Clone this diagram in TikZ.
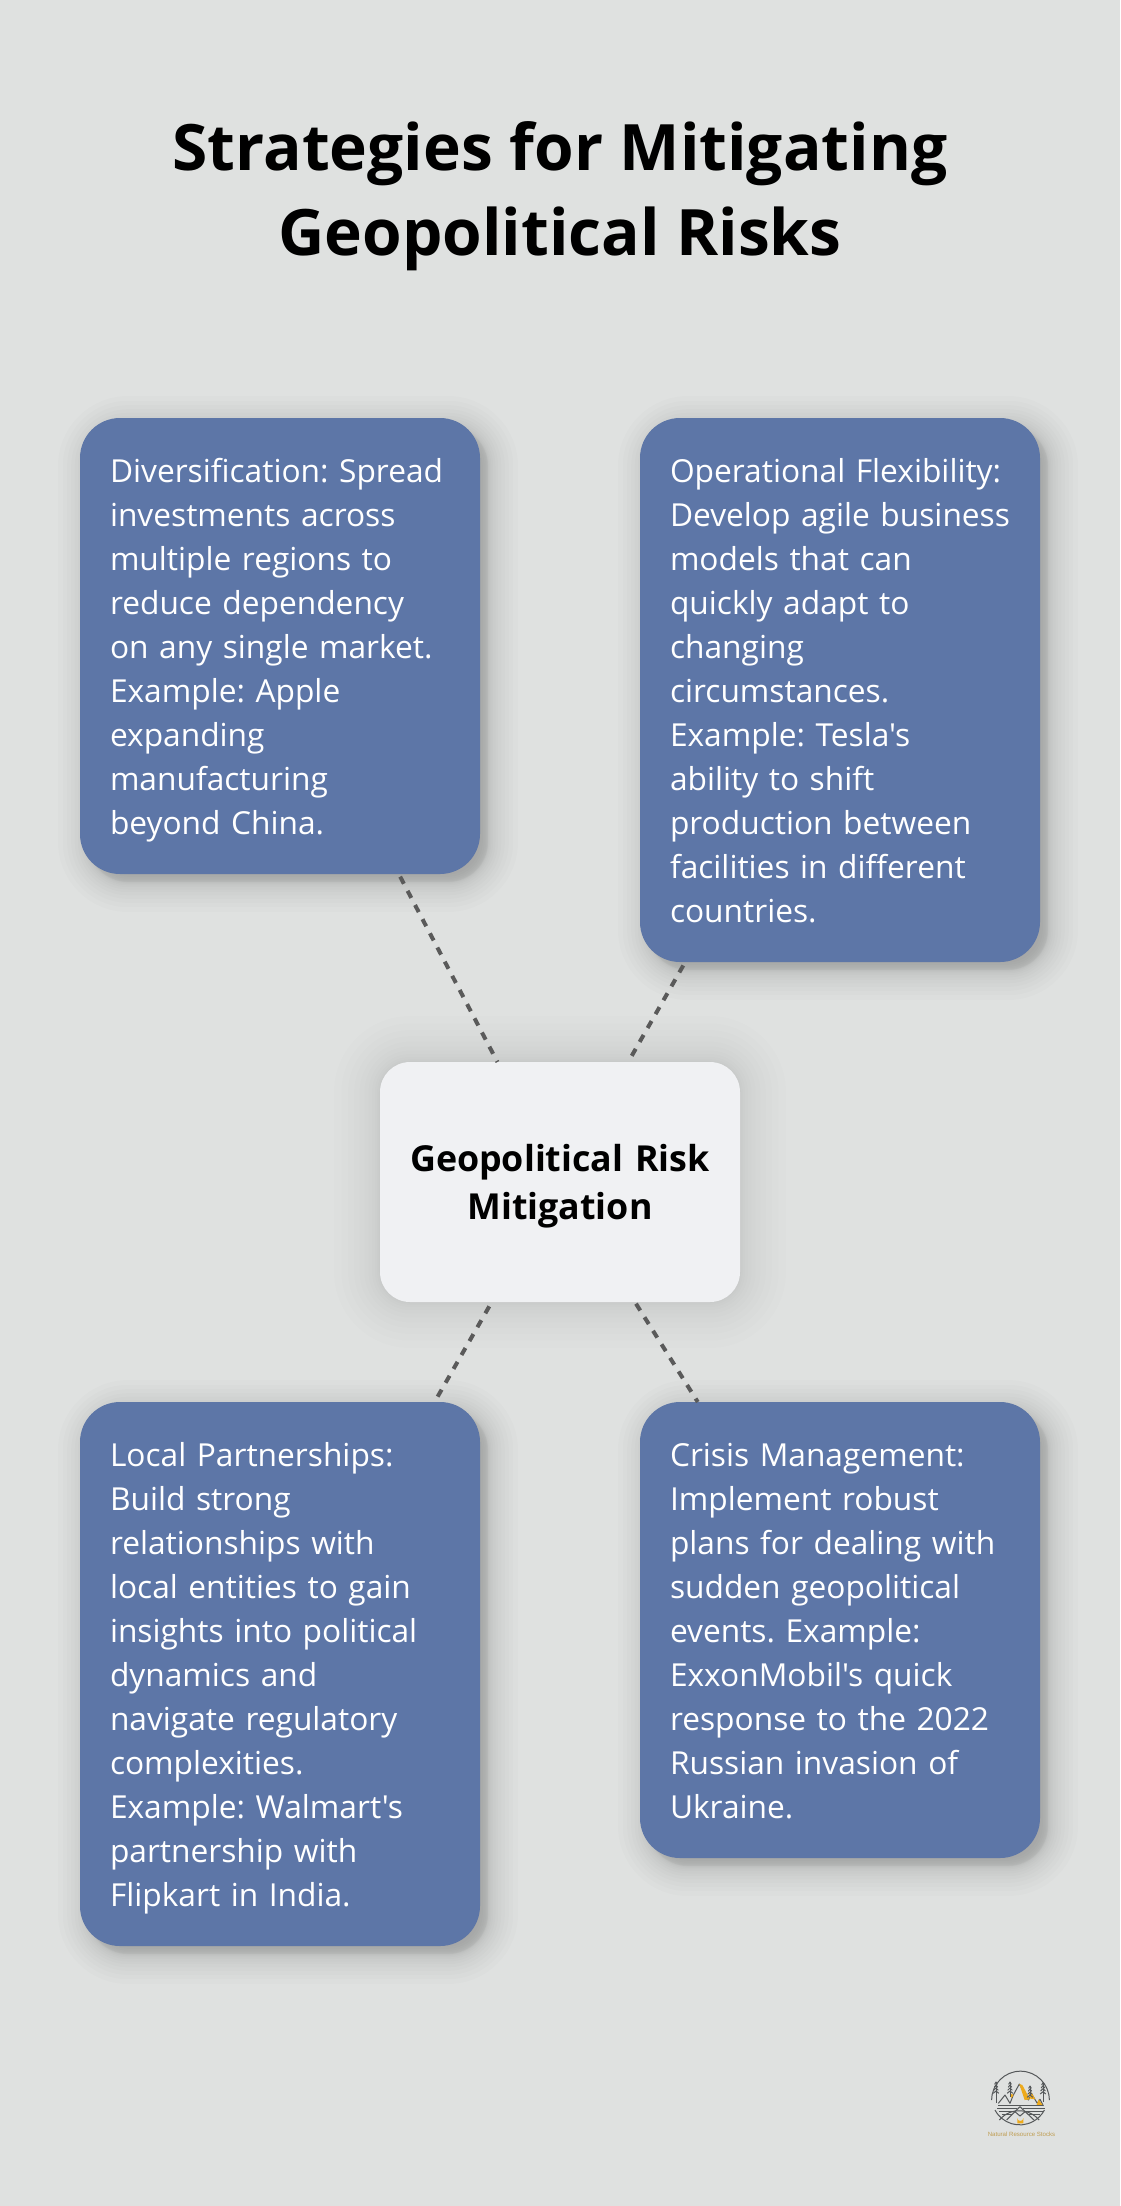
\documentclass[tikz,border=0pt]{standalone}
\usepackage{fontspec}
\newfontfamily\opensans{Open Sans}
\newfontfamily\logofont{Liberation Sans}
\definecolor{bgc}{HTML}{DFE1E0}
\definecolor{bluec}{HTML}{5D76A7}
\definecolor{centerc}{HTML}{F0F1F3}
\definecolor{dashc}{HTML}{5A5A5A}
\definecolor{goldc}{HTML}{EDAA1C}
\definecolor{inkc}{HTML}{55585A}
\newcommand{\softshadow}[7]{%
  \foreach \kv in {0,...,24}{%
    \pgfmathsetmacro{\tv}{\kv/12-1}%
    \pgfmathsetmacro{\sv}{#6*\tv*abs(\tv)}%
    \pgfmathsetmacro{\rv}{max(#5+\sv,1)}%
    \fill[black,fill opacity=#7,rounded corners=\rv pt]
      ({#1-(\sv)},{#2-(\sv)}) rectangle ({#3+\sv},{#4+\sv});
  }}
\newcommand{\firstl}{\vrule height 34pt depth 0pt width 0pt}
\newcommand{\lastl}{\vrule height 0pt depth 10pt width 0pt}
\tikzset{
  card/.style={fill=bluec,rounded corners=40pt,text=white,minimum width=400pt,
    inner xsep=30pt,inner ysep=30pt,outer sep=0pt,text width=340pt,align=left,
    font=\opensans\frenchspacing\fontsize{31.7}{44}\selectfont},
  hub/.style={fill=centerc,rounded corners=30pt,text=black,minimum width=360pt,minimum height=240pt,
    inner sep=0pt,outer sep=0pt,text width=340pt,align=center,
    font=\opensans\bfseries\frenchspacing\fontsize{35.8}{48}\selectfont},
  link/.style={draw=dashc,line width=4pt,dash pattern=on 8pt off 8pt},
  titletext/.style={text=black,align=center,inner sep=0pt,font=\opensans\bfseries\fontsize{64}{85}\selectfont},
  logoline/.style={draw=inkc,line width=1pt,line join=round},
  logogold/.style={fill=goldc,draw=none}
}
\begin{document}
\begin{tikzpicture}[x=1pt,y=-1pt]
\fill[bgc] (0,0) rectangle (1120,2206);
\useasboundingbox (0,0) rectangle (1120,2206);
% shadows
\softshadow{88}{426}{488}{882}{40}{30}{0.013}
\softshadow{648}{426}{1048}{970}{40}{30}{0.013}
\softshadow{88}{1410}{488}{1954}{40}{30}{0.013}
\softshadow{648}{1410}{1048}{1866}{40}{30}{0.013}
\softshadow{380}{1062}{740}{1302}{30}{46}{0.008}
% title
\node[titletext] (title) at (560,195.5) {\vrule height 60pt depth 0pt width 0pt Strategies for Mitigating\\Geopolitical Risks\vrule height 0pt depth 25pt width 0pt};
% nodes
\node[card] (div) at (280,646) {\firstl Diversification: Spread\\investments across\\multiple regions to\\reduce dependency\\on any single market.\\Example: Apple\\expanding\\manufacturing\\beyond China.\lastl};
\node[card] (flex) at (840,690) {\firstl Operational Flexibility:\\Develop agile \mbox{business}\\models that can\\quickly adapt to\\changing\\circumstances.\\Example: Tesla's\\ability to shift\\production between\\facilities in different\\countries.\lastl};
\node[card] (local) at (280,1674) {\firstl Local Partnerships:\\Build strong\\relationships with\\local entities to gain\\insights into political\\dynamics and\\navigate regulatory\\complexities.\\Example: Walmart's\\partnership with\\Flipkart in India.\lastl};
\node[card] (crisis) at (840,1630) {\firstl Crisis Management:\\Implement robust\\plans for dealing with\\sudden geopolitical\\events. Example:\\ExxonMobil's quick\\response to the 2022\\Russian invasion of\\Ukraine.\lastl};
\node[hub] (hub) at (560,1182) {\vrule height 35pt depth 0pt width 0pt Geopolitical Risk\\Mitigation\vrule height 0pt depth 7pt width 0pt};
% connectors
\draw[link,shorten <=3pt] (div) -- (hub);
\draw[link,shorten <=4pt,shorten >=4pt] (flex) -- (hub);
\draw[link,shorten <=5pt,shorten >=4pt] (hub) -- (local);
\draw[link,shorten <=2pt] (hub) -- (crisis);
% logo
\begin{scope}[xshift=960pt,yshift=-2040pt,x=0.3333pt,y=-0.3333pt]
  \draw[logoline] (105,210) arc[start angle=152,end angle=28,radius=84];
  \draw[logoline] (95,180) arc[start angle=180,end angle=360,radius=86.5];
  \draw[logoline] (118,240) arc[start angle=-140,end angle=-40,radius=78];
  % mountains
  \draw[logoline] (115,190) -- (135,165) -- (150,190) -- (160,165) -- (178,132) -- (205,180) -- (215,162) -- (232,190) -- (240,178) -- (250,198);
  \fill[logogold] (178,132) -- (187,135) -- (210,178) -- (194,180) -- cycle;
  \fill[logogold] (206,158) -- (215,158) -- (226,178) -- (211,176) -- cycle;
  \fill[logogold] (150,160) -- (161,165) -- (154,174) -- cycle;
  \fill[logogold] (236,178) -- (249,197) -- (229,197) -- cycle;
  % trees
  \foreach \tx/\ty/\tb in {108/126/190,150/126/170,210/138/165,249/128/185}{
    \draw[logoline] (\tx,\ty) -- (\tx,\tb);
    \foreach \k in {0,1,2,3}{
      \draw[logoline] ({\tx-4-\k*1.5},{\ty+7+\k*9}) -- (\tx,{\ty+\k*9}) -- ({\tx+4+\k*1.5},{\ty+7+\k*9});
    }
  }
  % water
  \foreach \wy/\wa/\wb in {196/115/250,205/112/170,205/190/255,214/118/165,214/195/250,224/125/155,224/205/240}{
    \draw[draw=inkc,line width=.6pt] (\wa,\wy) -- (\wb,\wy);
  }
  % tent
  \draw[logoline] (140,240) -- (180,200) -- (222,240);
  \draw[logoline] (165,215) -- (180,228) -- (195,215);
  \fill[logogold] (172,250) -- (172,234) arc[start angle=180,end angle=0,radius=9] -- (190,250) -- cycle;
\end{scope}
\node[text=goldc!75!black!70!bgc,inner sep=0pt,font=\logofont\fontsize{6.1}{8}\selectfont] (brand) at (1021.5,2134) {Natural Resource Stocks};
\end{tikzpicture}
\end{document}
